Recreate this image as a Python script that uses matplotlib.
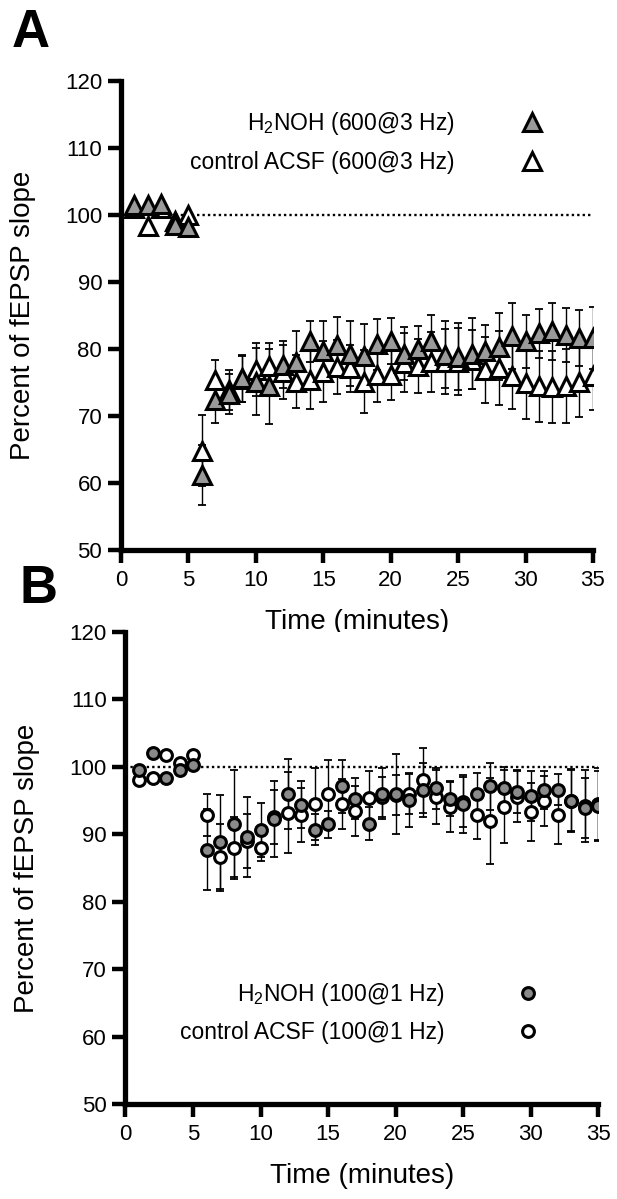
import numpy as np
import matplotlib.pyplot as plt

plt.rcParams['font.family'] = ['Liberation Sans', 'DejaVu Sans']
plt.rcParams['mathtext.default'] = 'regular'

minutes = np.arange(1, 36)

# A: 600 pulses @ 3 Hz
a_h2noh = [101.5, 101.5, 101.6, 98.5, 98.1, 61.2, 72.3, 73.3, 75.6, 75.1,
           74.4, 77.6, 78.1, 81.1, 79.7, 80.6, 79.3, 79.0, 80.7, 81.2,
           79.3, 79.9, 81.2, 79.1, 78.8, 79.3, 79.6, 80.3, 81.9, 81.1,
           82.3, 82.6, 82.1, 81.6, 81.6]
a_h2noh_err = [0, 0, 0, 0, 0, 4.5, 3.3, 3.0, 3.5, 5.0,
               5.6, 3.5, 4.5, 3.0, 4.5, 4.2, 4.9, 4.7, 3.8, 3.4,
               3.9, 3.5, 3.9, 5.0, 5.0, 5.3, 4.0, 5.0, 4.9, 4.0,
               3.6, 4.2, 4.0, 4.2, 4.6]
a_ctrl = [101.0, 98.3, 101.0, 99.0, 100.0, 64.8, 75.4, 73.8, 75.5, 76.9,
          77.4, 76.5, 75.1, 75.4, 76.6, 77.3, 77.1, 75.1, 76.1, 76.1,
          77.9, 77.4, 78.0, 78.1, 78.1, 78.4, 76.8, 77.1, 75.9, 74.9,
          74.4, 74.3, 74.4, 75.1, 75.9]
a_ctrl_err = [0, 0, 0, 0, 0, 5.3, 3.0, 3.0, 3.5, 4.0,
              3.5, 4.0, 4.0, 4.4, 4.5, 4.0, 3.5, 4.7, 4.0, 3.7,
              4.4, 4.0, 4.5, 4.9, 5.0, 4.4, 4.9, 5.5, 4.9, 5.4,
              5.3, 5.4, 5.5, 5.2, 5.0]

# B: 100 pulses @ 1 Hz
b_h2noh = [99.5, 102.0, 98.4, 99.5, 100.3, 87.7, 88.9, 91.6, 89.6, 90.6,
           92.3, 96.0, 94.4, 90.7, 91.5, 97.1, 95.3, 91.6, 96.0, 96.0,
           95.1, 96.6, 96.8, 95.3, 94.5, 96.0, 97.1, 96.8, 96.3, 95.7,
           96.6, 96.6, 95.0, 93.9, 94.2]
b_h2noh_err = [0, 0, 0, 0, 0, 6.0, 7.0, 8.0, 6.0, 4.0,
               5.6, 5.2, 3.5, 2.3, 2.0, 3.9, 3.0, 2.5, 3.8, 5.9,
               4.0, 4.0, 3.1, 2.6, 4.3, 3.1, 3.5, 3.2, 3.2, 3.7,
               2.8, 2.3, 4.5, 4.5, 5.2]
b_ctrl = [98.0, 98.3, 101.7, 100.5, 101.7, 92.9, 86.6, 88.0, 89.0, 88.0,
          92.5, 93.2, 92.8, 94.5, 96.0, 94.5, 93.4, 95.4, 95.5, 95.8,
          96.0, 98.0, 95.6, 94.0, 94.8, 92.9, 92.0, 94.1, 95.6, 93.3,
          95.0, 92.8, 95.0, 94.2, 94.5]
b_ctrl_err = [0, 0, 0, 0, 0, 3.1, 5.0, 4.6, 4.0, 2.0,
              4.0, 6.0, 4.0, 5.4, 5.0, 3.7, 3.7, 4.0, 3.0, 3.0,
              3.0, 4.8, 4.0, 3.7, 3.7, 3.6, 6.4, 5.4, 3.8, 4.3,
              3.7, 4.3, 4.7, 5.3, 5.4]


def draw_panel(ax, ctrl, ctrl_err, drug, drug_err, marker, ms, fill, labels, anchor, pad):
    eb = dict(fmt='none', ecolor='black', elinewidth=1.0, capsize=3, capthick=1.3, zorder=2)
    ax.errorbar(minutes, ctrl, yerr=ctrl_err, **eb)
    ax.errorbar(minutes, drug, yerr=drug_err, **eb)
    # 100 % baseline
    ax.axhline(100, color='black', lw=1.7, ls=(0, (1, 1.3)), zorder=1)
    c_line, = ax.plot(minutes, ctrl, ls='none', marker=marker, ms=ms, mfc='white',
                      mec='black', mew=2.2, zorder=3, label=labels[1])
    d_line, = ax.plot(minutes, drug, ls='none', marker=marker, ms=ms, mfc=fill,
                      mec='black', mew=2.2, zorder=4, label=labels[0])
    # markers after the text, text right-aligned
    ax.legend(handles=[d_line, c_line], markerfirst=False, frameon=False,
              loc='center right', bbox_to_anchor=anchor, fontsize=16.5,
              handlelength=1.0, handletextpad=pad, labelspacing=0.6,
              borderpad=0, borderaxespad=0, numpoints=1)

    ax.set_xlim(0, 35)
    ax.set_ylim(50, 120)
    ax.set_xticks(range(0, 36, 5))
    ax.set_yticks(range(50, 121, 10))
    for s in ['top', 'right']:
        ax.spines[s].set_visible(False)
    for s in ['left', 'bottom']:
        ax.spines[s].set_linewidth(3.8)
    ax.tick_params(axis='both', direction='out', length=9.5, width=3.2, labelsize=16)
    ax.tick_params(axis='x', pad=5)
    ax.tick_params(axis='y', pad=4)
    ax.set_xlabel('Time (minutes)', fontsize=20)
    ax.set_ylabel('Percent of fEPSP slope', fontsize=20)
    ax.xaxis.set_label_coords(0.5, -0.125)
    ax.yaxis.set_label_coords(-0.18, 0.5)


fig = plt.figure(figsize=(6.17, 11.99), dpi=100)
ax_a = fig.add_axes([0.196, 0.5413, 0.765, 0.3915])
ax_b = fig.add_axes([0.2034, 0.0792, 0.766, 0.3937])

draw_panel(ax_a, a_ctrl, a_ctrl_err, a_h2noh, a_h2noh_err, '^', 12.5, '#9a9a9a',
           ['H$_2$NOH (600@3 Hz)', 'control ACSF (600@3 Hz)'], (0.8957, 0.869), 2.9)
draw_panel(ax_b, b_ctrl, b_ctrl_err, b_h2noh, b_h2noh_err, 'o', 8.5, '#8a8a8a',
           ['H$_2$NOH (100@1 Hz)', 'control ACSF (100@1 Hz)'], (0.8757, 0.194), 3.15)

fig.text(0.019, 0.961, 'A', fontsize=38, fontweight='bold')
fig.text(0.032, 0.497, 'B', fontsize=38, fontweight='bold')

fig.savefig('out.png', dpi=100)
